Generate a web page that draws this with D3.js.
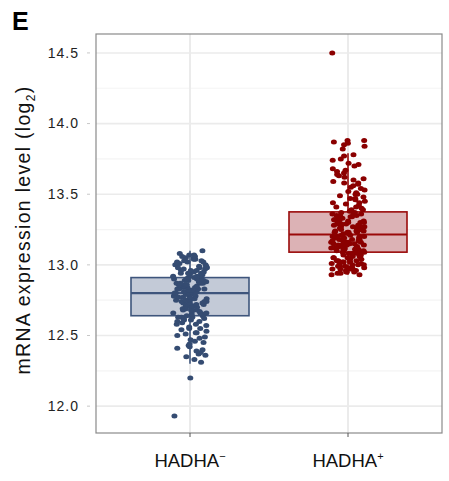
<!DOCTYPE html>
<html>
<head>
<meta charset="utf-8">
<script src="https://cdn.jsdelivr.net/npm/d3@7"></script>
<style>
  html, body { margin: 0; padding: 0; background: #fff; }
  svg { display: block; font-family: "Liberation Sans", Arial, Helvetica, sans-serif; }
</style>
</head>
<body>
<svg id="chart" width="449" height="481"></svg>
<script>
// Groups shown on the x axis
const groups = ["HADHA−", "HADHA+"];
const groupKeys = ["neg", "pos"];

// Per-sample mRNA expression (log2), HADHA-negative group
const valuesNeg = [
  11.93, 12.20, 12.31, 12.33, 12.35, 12.36, 12.37, 12.38, 12.39, 12.40,
  12.41, 12.42, 12.43, 12.44, 12.45, 12.46, 12.47, 12.48, 12.49, 12.50,
  12.51, 12.52, 12.52, 12.53, 12.54, 12.55, 12.55, 12.56, 12.57, 12.58,
  12.58, 12.59, 12.60, 12.60, 12.61, 12.61, 12.62, 12.62, 12.63, 12.63,
  12.63, 12.64,
  12.64, 12.65, 12.65, 12.66, 12.66, 12.66, 12.67, 12.67, 12.68, 12.68,
  12.68, 12.69, 12.69, 12.70, 12.70, 12.70, 12.71, 12.71, 12.71, 12.72,
  12.72, 12.72, 12.73, 12.73, 12.73, 12.74, 12.74, 12.74, 12.75, 12.75,
  12.75, 12.76, 12.76, 12.76, 12.77, 12.77, 12.77, 12.78, 12.78, 12.78,
  12.79, 12.79, 12.79,
  12.80, 12.80, 12.80, 12.81, 12.81, 12.81, 12.81, 12.82, 12.82, 12.82,
  12.82, 12.83, 12.83, 12.83, 12.83, 12.84, 12.84, 12.84, 12.84, 12.85,
  12.85, 12.85, 12.85, 12.86, 12.86, 12.86, 12.86, 12.87, 12.87, 12.87,
  12.87, 12.88, 12.88, 12.88, 12.88, 12.89, 12.89, 12.89, 12.89, 12.90,
  12.90, 12.90, 12.90,
  12.91, 12.91, 12.92, 12.92, 12.92, 12.93, 12.93, 12.94, 12.94, 12.94,
  12.95, 12.95, 12.96, 12.96, 12.96, 12.97, 12.97, 12.98, 12.98, 12.98,
  12.99, 12.99, 13.00, 13.00, 13.00, 13.01, 13.01, 13.02, 13.02, 13.02,
  13.03, 13.03, 13.04, 13.04, 13.05, 13.05, 13.06, 13.06, 13.07, 13.07,
  13.08, 13.10
];

// Per-sample mRNA expression (log2), HADHA-positive group
const valuesPos = [
  12.93, 12.93, 12.94, 12.94, 12.95, 12.95, 12.95, 12.96, 12.96, 12.96,
  12.97, 12.97, 12.97, 12.98, 12.98, 12.98, 12.99, 12.99, 12.99, 13.00,
  13.00, 13.00, 13.01, 13.01, 13.01, 13.02, 13.02, 13.02, 13.03, 13.03,
  13.03, 13.04, 13.04, 13.04, 13.05, 13.05, 13.05, 13.06, 13.06, 13.06,
  13.07, 13.07, 13.07, 13.08, 13.08, 13.08, 13.09,
  13.09, 13.09, 13.10, 13.10, 13.10, 13.10, 13.11, 13.11, 13.11, 13.11,
  13.12, 13.12, 13.12, 13.12, 13.13, 13.13, 13.13, 13.13, 13.14, 13.14,
  13.14, 13.14, 13.15, 13.15, 13.15, 13.15, 13.16, 13.16, 13.16, 13.16,
  13.17, 13.17, 13.17, 13.17, 13.18, 13.18, 13.18, 13.18, 13.19, 13.19,
  13.19, 13.20, 13.20, 13.20, 13.20, 13.21, 13.21,
  13.22, 13.22, 13.23, 13.23, 13.23, 13.23, 13.24, 13.24, 13.24, 13.25,
  13.25, 13.25, 13.26, 13.26, 13.26, 13.27, 13.27, 13.27, 13.28, 13.28,
  13.28, 13.29, 13.29, 13.29, 13.30, 13.30, 13.30, 13.31, 13.31, 13.31,
  13.32, 13.32, 13.32, 13.33, 13.33, 13.33, 13.34, 13.34, 13.34, 13.35,
  13.35, 13.35, 13.36, 13.36, 13.36, 13.37, 13.37,
  13.38, 13.39, 13.39, 13.40, 13.41, 13.41, 13.42, 13.43, 13.44, 13.44,
  13.45, 13.46, 13.47, 13.47, 13.48, 13.49, 13.50, 13.50, 13.51, 13.52,
  13.53, 13.54, 13.55, 13.56, 13.57, 13.58, 13.58, 13.59, 13.60, 13.61,
  13.62, 13.63, 13.64, 13.65, 13.66, 13.67, 13.68, 13.70, 13.71, 13.72,
  13.74, 13.75, 13.77, 13.78,
  13.82, 13.84, 13.85, 13.86, 13.87, 13.88, 13.88, 14.50
];

// Box summaries per group: lower whisker, Q1, median, Q3, upper whisker
const whiskerLow  = [12.30, 12.93];
const quartile1   = [12.64, 13.09];
const medians     = [12.80, 13.215];
const quartile3   = [12.91, 13.375];
const whiskerHigh = [13.10, 13.79];

// Axis ticks
const yTicks = [12.0, 12.5, 13.0, 13.5, 14.0, 14.5];
const yTickLabels = ["12.0", "12.5", "13.0", "13.5", "14.0", "14.5"];
const yMinor = [11.75, 12.25, 12.75, 13.25, 13.75, 14.25];

const palette = {
  neg: { point: "#354c72", fill: "#c3cad7", stroke: "#3e557c" },
  pos: { point: "#8b0000", fill: "#dcb2b5", stroke: "#9a0a0a" }
};

const svg = d3.select("#chart");
const panel = { left: 96, right: 442, top: 34, bottom: 433 };

const y = d3.scaleLinear()
  .domain([11.81, 14.634])
  .range([panel.bottom, panel.top]);

const x = d3.scalePoint()
  .domain(groups)
  .range([190, 348]);

const boxHalf = 59;
const jitterHalf = 17;

// Integer hash -> [0,1), used to scatter points horizontally inside each group
function spread(j, salt) {
  let h = Math.imul(j + 1 + salt * 7919, 0x9E3779B1);
  h ^= h >>> 15;
  h = Math.imul(h, 0x85EBCA77);
  h ^= h >>> 13;
  h = Math.imul(h, 0xC2B2AE3D);
  h ^= h >>> 16;
  return (h >>> 0) / 4294967296;
}

// Gridlines
const grid = svg.append("g");
grid.selectAll("line.minor").data(yMinor.filter(v => y(v) > panel.top && y(v) < panel.bottom))
  .join("line")
  .attr("x1", panel.left).attr("x2", panel.right)
  .attr("y1", d => y(d)).attr("y2", d => y(d))
  .attr("stroke", "#f4f4f4").attr("stroke-width", 1.2);
grid.selectAll("line.major").data(yTicks)
  .join("line")
  .attr("x1", panel.left).attr("x2", panel.right)
  .attr("y1", d => y(d)).attr("y2", d => y(d))
  .attr("stroke", "#ebebeb").attr("stroke-width", 1.6);
grid.selectAll("line.vert").data(groups)
  .join("line")
  .attr("x1", d => x(d)).attr("x2", d => x(d))
  .attr("y1", panel.top).attr("y2", panel.bottom)
  .attr("stroke", "#ebebeb").attr("stroke-width", 2);

// Boxes and whiskers
const boxes = svg.append("g");
groups.forEach((g, i) => {
  const c = palette[groupKeys[i]];
  const cx = x(g);
  boxes.append("line")
    .attr("x1", cx).attr("x2", cx)
    .attr("y1", y(whiskerHigh[i])).attr("y2", y(quartile3[i]))
    .attr("stroke", c.stroke).attr("stroke-width", 1.6);
  boxes.append("line")
    .attr("x1", cx).attr("x2", cx)
    .attr("y1", y(quartile1[i])).attr("y2", y(whiskerLow[i]))
    .attr("stroke", c.stroke).attr("stroke-width", 1.6);
  boxes.append("rect")
    .attr("x", cx - boxHalf).attr("width", boxHalf * 2)
    .attr("y", y(quartile3[i])).attr("height", y(quartile1[i]) - y(quartile3[i]))
    .attr("fill", c.fill).attr("stroke", c.stroke).attr("stroke-width", 1.6);
  boxes.append("line")
    .attr("x1", cx - boxHalf).attr("x2", cx + boxHalf)
    .attr("y1", y(medians[i])).attr("y2", y(medians[i]))
    .attr("stroke", c.stroke).attr("stroke-width", 2.2);
});

// Jittered sample points
const points = svg.append("g");
[valuesNeg, valuesPos].forEach((vals, i) => {
  const c = palette[groupKeys[i]];
  const cx = x(groups[i]);
  points.selectAll(null).data(vals)
    .join("ellipse")
    .attr("cx", (d, j) => cx + (spread(j, i) * 2 - 1) * jitterHalf)
    .attr("cy", d => y(d))
    .attr("rx", 3.0).attr("ry", 2.5)
    .attr("fill", c.point);
});

// Panel border
svg.append("rect")
  .attr("x", panel.left).attr("y", panel.top)
  .attr("width", panel.right - panel.left).attr("height", panel.bottom - panel.top)
  .attr("fill", "none").attr("stroke", "#8a8a8a").attr("stroke-width", 1.2);

// Y axis ticks and labels
const yAxis = svg.append("g");
yAxis.selectAll("line").data(yTicks).join("line")
  .attr("x1", 87).attr("x2", 90)
  .attr("y1", d => y(d)).attr("y2", d => y(d))
  .attr("stroke", "#c8c8c8").attr("stroke-width", 1);
yAxis.selectAll("text").data(yTicks).join("text")
  .attr("x", 79).attr("y", d => y(d))
  .attr("dy", "0.35em")
  .attr("text-anchor", "end")
  .attr("font-size", 14)
  .attr("letter-spacing", 1.0)
  .attr("fill", "#222")
  .text((d, i) => yTickLabels[i]);

// X axis ticks and labels
const xAxis = svg.append("g");
xAxis.selectAll("line").data(groups).join("line")
  .attr("x1", d => x(d)).attr("x2", d => x(d))
  .attr("y1", panel.bottom).attr("y2", panel.bottom + 4)
  .attr("stroke", "#555").attr("stroke-width", 1);
const xl = xAxis.selectAll("text").data(groups).join("text")
  .attr("x", d => x(d)).attr("y", 467)
  .attr("text-anchor", "middle")
  .attr("font-size", 18.5)
  .attr("fill", "#111");
xl.append("tspan").text("HADHA");
xl.append("tspan")
  .attr("font-size", 11).attr("dy", -7)
  .text((d, i) => i === 0 ? "−" : "+");

// Y axis title
const yt = svg.append("text")
  .attr("transform", "translate(30,230) rotate(-90)")
  .attr("text-anchor", "middle")
  .attr("font-size", 19.5)
  .attr("letter-spacing", 1.3)
  .attr("fill", "#111");
yt.append("tspan").text("mRNA expression level (log");
yt.append("tspan").attr("font-size", 12).attr("dy", 5).text("2");
yt.append("tspan").attr("dy", -5).text(")");

// Panel letter
svg.append("text")
  .attr("x", 12).attr("y", 30)
  .attr("font-size", 25).attr("font-weight", "bold")
  .attr("fill", "#000")
  .text("E");
</script>
</body>
</html>
